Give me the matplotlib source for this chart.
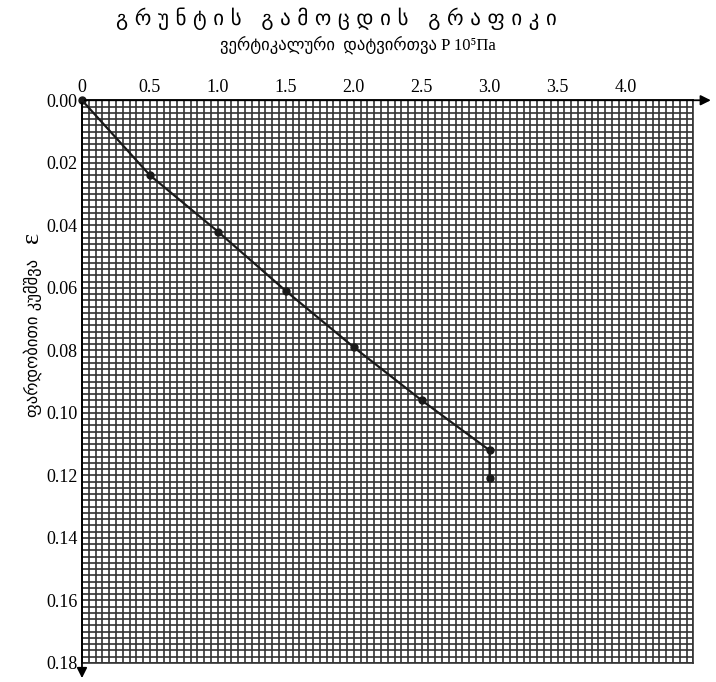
import numpy as np
import matplotlib.pyplot as plt

# Load test data (pressure in 10^5 Pa, relative compression)
pressure = [0.0, 0.5, 1.0, 1.5, 2.0, 2.5, 3.0, 3.0]
strain = [0.0, 0.024, 0.042, 0.061, 0.079, 0.096, 0.112, 0.121]

x_ticks = [0.0, 0.5, 1.0, 1.5, 2.0, 2.5, 3.0, 3.5, 4.0]
x_labels = ["0", "0.5", "1.0", "1.5", "2.0", "2.5", "3.0", "3.5", "4.0"]
y_ticks = [0.00, 0.02, 0.04, 0.06, 0.08, 0.10, 0.12, 0.14, 0.16, 0.18]

fams = ["Liberation Serif", "DejaVu Sans"]

fig = plt.figure(figsize=(7.16, 6.82), dpi=100)
ax = fig.add_axes([0.1145, 0.028, 0.854, 0.825])

# graph paper grid
for gx in np.arange(0, 4.5001, 0.05):
    ax.axvline(gx, color="#333333", lw=1.2, zorder=1)
for gy in np.arange(0, 0.18001, 0.002):
    ax.axhline(gy, color="#333333", lw=1.2, zorder=1)

ax.plot(pressure, strain, color="#1a1a1a", lw=1.6, marker="o", ms=5,
        zorder=3, clip_on=False)

ax.set_xlim(0, 4.5)
ax.set_ylim(0.18, 0)
ax.xaxis.tick_top()
ax.set_xticks(x_ticks)
ax.set_xticklabels(x_labels)
ax.set_yticks(y_ticks)
ax.set_yticklabels([f"{v:.2f}" for v in y_ticks])
ax.tick_params(length=0, pad=3, labelsize=13)
for lab in ax.get_xticklabels() + ax.get_yticklabels():
    lab.set_fontfamily("Liberation Serif")

for s in ax.spines.values():
    s.set_color("#333333")
    s.set_linewidth(1.2)
ax.spines["top"].set_color("black")
ax.spines["left"].set_color("black")

# axis arrows
arrow = dict(arrowstyle="-|>", color="black", lw=1.3, mutation_scale=15)
ax.annotate("", xy=(1.033, 1), xytext=(0, 1), xycoords="axes fraction",
            arrowprops=arrow, annotation_clip=False)
ax.annotate("", xy=(0, -0.032), xytext=(0, 1), xycoords="axes fraction",
            arrowprops=arrow, annotation_clip=False)

# titles
fig.text(0.47, 0.972, "გ რ უ ნ ტ ი ს   გ ა მ ო ც დ ი ს   გ რ ა ფ ი კ ი",
         ha="center", va="center", fontsize=15, family="DejaVu Sans")
fig.text(0.50, 0.934, "ვერტიკალური  დატვირთვა P 10⁵Па", ha="center",
         va="center", fontsize=12, family=fams)

# y label
fig.text(0.045, 0.505, "ფარდობითი კუმშვა", rotation=90, ha="center",
         va="center", fontsize=12, family="DejaVu Sans")
fig.text(0.045, 0.652, "ε", rotation=90, ha="center", va="center",
         fontsize=19, family="Liberation Serif")

plt.savefig("out.png", dpi=100)
